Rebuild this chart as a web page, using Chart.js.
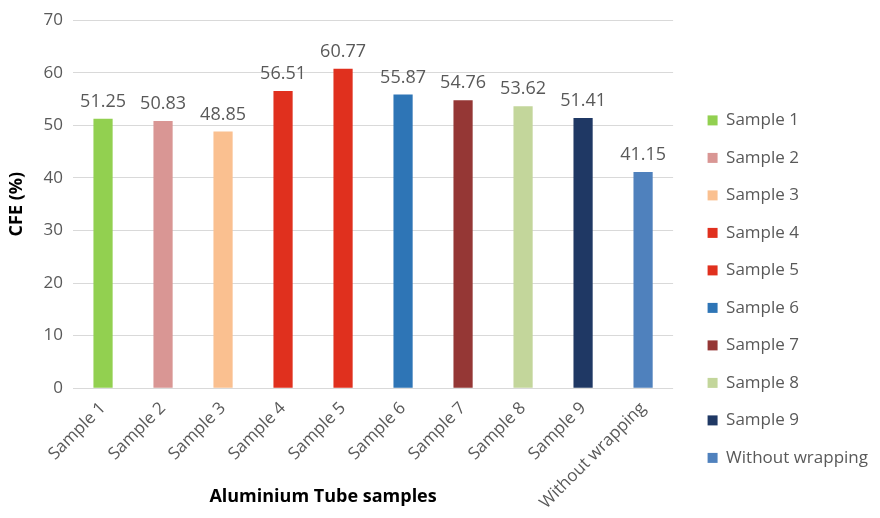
<!DOCTYPE html>
<html>
<head>
<meta charset="utf-8">
<script src="https://cdn.jsdelivr.net/npm/chart.js@4"></script>
<style>
  html, body { margin: 0; padding: 0; background: #fff; }
  #wrap { width: 880px; height: 518px; position: relative; }
</style>
</head>
<body>
<div id="wrap"><canvas id="cfeChart"></canvas></div>
<script>
// Data
const samples = ['Sample 1', 'Sample 2', 'Sample 3', 'Sample 4', 'Sample 5',
                 'Sample 6', 'Sample 7', 'Sample 8', 'Sample 9', 'Without wrapping'];
const cfeValues = [51.25, 50.83, 48.85, 56.51, 60.77, 55.87, 54.76, 53.62, 51.41, 41.15];
const barColors = ['#92d050', '#d99694', '#fac090', '#e0301e', '#e0301e',
                   '#2e75b6', '#953735', '#c3d69b', '#1f3864', '#4f81bd'];
const yTicks = [0, 10, 20, 30, 40, 50, 60, 70];

const FONT = "'Open Sans', sans-serif";
const TEXT = '#595959';

// labels above bars + x-axis title (drawn by hand so it can sit left of centre)
const valueLabels = {
    id: 'valueLabels',
    afterDatasetsDraw(chart) {
        const ctx = chart.ctx;
        const meta = chart.getDatasetMeta(0);
        ctx.save();
        ctx.font = '18px ' + FONT;
        ctx.fillStyle = TEXT;
        ctx.textAlign = 'center';
        ctx.textBaseline = 'bottom';
        meta.data.forEach((bar, i) => {
            ctx.fillText(cfeValues[i].toFixed(2), bar.x, bar.y - 8);
        });
        ctx.font = 'bold 18px ' + FONT;
        ctx.fillStyle = '#000';
        ctx.textBaseline = 'middle';
        ctx.fillText('Aluminium Tube samples', chart.chartArea.left + 250, chart.height - 21);
        ctx.restore();
    }
};

const ctx = document.getElementById('cfeChart').getContext('2d');

new Chart(ctx, {
    type: 'bar',
    data: {
        labels: samples,
        datasets: [{
            data: cfeValues,
            backgroundColor: barColors,
            barPercentage: 0.32,
            categoryPercentage: 1
        }]
    },
    options: {
        responsive: true,
        maintainAspectRatio: false,
        animation: false,
        layout: { padding: { top: 8, right: 2, bottom: 3, left: 6 } },
        scales: {
            x: {
                grid: { display: false },
                border: { display: false },
                ticks: {
                    font: { family: FONT, size: 17 },
                    color: TEXT,
                    minRotation: 45,
                    maxRotation: 45,
                    padding: 2
                }
            },
            y: {
                min: 0,
                max: 70,
                afterBuildTicks(scale) {
                    scale.ticks = yTicks.map(v => ({ value: v }));
                },
                grid: { color: '#d9d9d9', drawTicks: false },
                border: { display: false },
                ticks: {
                    font: { family: FONT, size: 17 },
                    color: TEXT,
                    padding: 10
                },
                title: {
                    display: true,
                    text: 'CFE (%)',
                    font: { family: FONT, size: 18, weight: 'bold' },
                    color: '#000',
                    padding: { top: 0, bottom: 6 }
                }
            },
            gap: {
                position: 'right',
                grid: { display: false },
                border: { display: false },
                ticks: { display: false },
                afterFit(scale) { scale.width = 14; }
            }
        },
        plugins: {
            legend: {
                position: 'right',
                align: 'start',
                maxWidth: 260,
                title: { display: true, text: '', padding: { top: 40, bottom: 29 } },
                labels: {
                    boxWidth: 10,
                    boxHeight: 10,
                    padding: 20.5,
                    color: TEXT,
                    font: { family: FONT, size: 17 },
                    generateLabels() {
                        return samples.map((s, i) => ({
                            text: s,
                            fillStyle: barColors[i],
                            strokeStyle: barColors[i],
                            lineWidth: 0,
                            fontColor: TEXT,
                            index: i
                        }));
                    }
                },
                onClick() {}
            },
            tooltip: { enabled: false }
        }
    },
    plugins: [valueLabels]
});
</script>
</body>
</html>
